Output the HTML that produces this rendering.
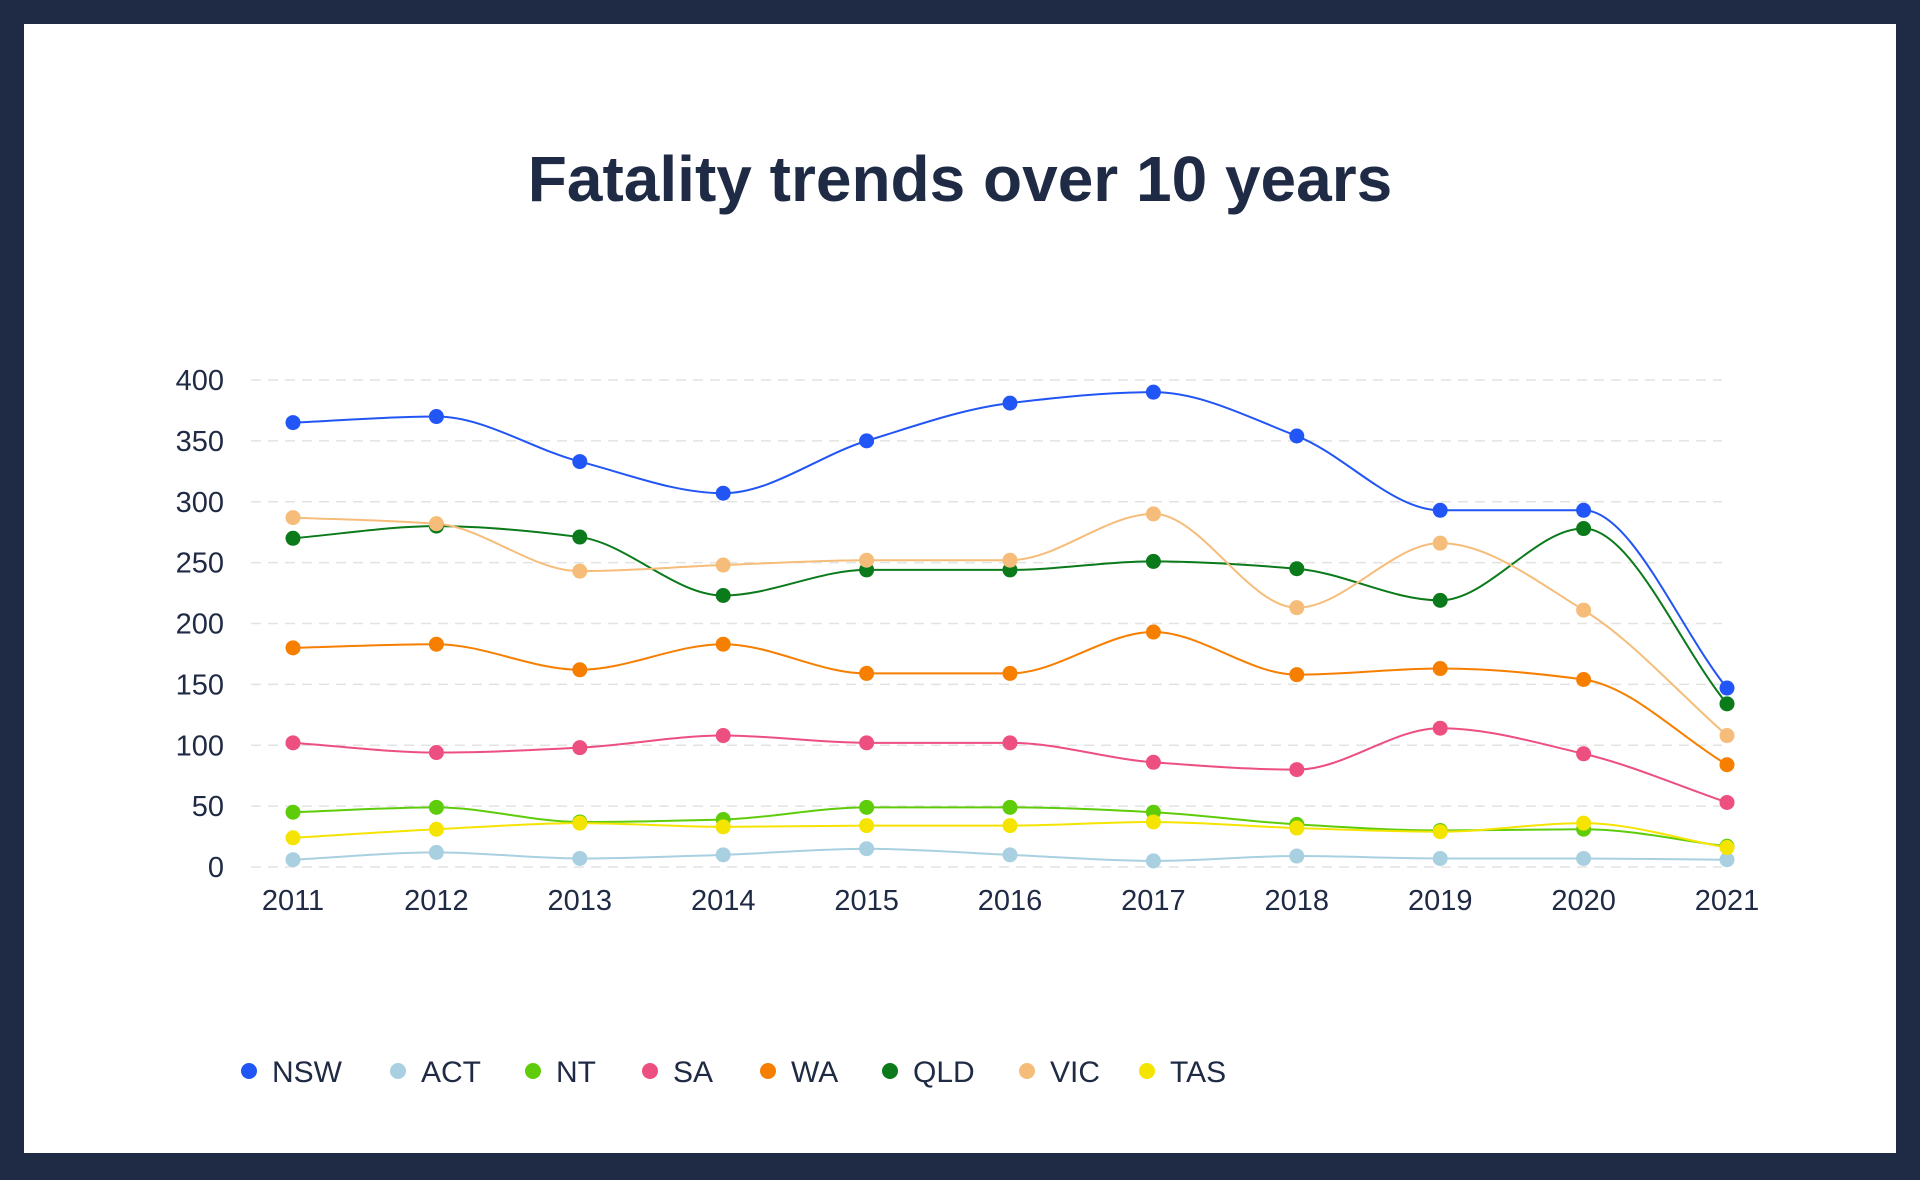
<!DOCTYPE html>
<html><head><meta charset="utf-8"><style>
html,body{margin:0;padding:0;}
body{width:1920px;height:1180px;background:#1f2a44;position:relative;overflow:hidden;font-family:"Liberation Sans",sans-serif;}
#panel{position:absolute;left:24px;top:24px;width:1872px;height:1129px;background:#fff;}
#title{position:absolute;left:0;width:1920px;top:142px;text-align:center;font-size:64px;font-weight:bold;color:#1f2a44;}
svg{position:absolute;left:0;top:0;}
</style></head><body>
<div id="panel"></div>
<div id="title">Fatality trends over 10 years</div>
<svg id="chart" width="1920" height="1180"></svg>
<script>
const years = ['2011','2012','2013','2014','2015','2016','2017','2018','2019','2020','2021'];
const yTicks = [0,50,100,150,200,250,300,350,400];
const seriesNames = ['NSW','ACT','NT','SA','WA','QLD','VIC','TAS'];
const seriesColors = ['#2255f5','#a8d0e0','#5fcc0a','#ec4f80','#f77f00','#0b7a1a','#f6bd7a','#f5e400'];
const NSW = [365,370,333,307,350,381,390,354,293,293,147];
const ACT = [6,12,7,10,15,10,5,9,7,7,6];
const NT = [45,49,37,39,49,49,45,35,30,31,17];
const SA = [102,94,98,108,102,102,86,80,114,93,53];
const WA = [180,183,162,183,159,159,193,158,163,154,84];
const QLD = [270,280,271,223,244,244,251,245,219,278,134];
const VIC = [287,282,243,248,252,252,290,213,266,211,108];
const TAS = [24,31,36,33,34,34,37,32,29,36,16];
const seriesData = [NSW,ACT,NT,SA,WA,QLD,VIC,TAS];
const legendX = [249,398,533,650,768,890,1027,1147];

const NS='http://www.w3.org/2000/svg';
const svg=document.getElementById('chart');
const x0=293,x1=1727,yTop=380,yBot=867,yMax=400;
function xS(i){return x0+(x1-x0)*i/(years.length-1);}
function yS(v){return yBot-(yBot-yTop)*v/yMax;}
function mk(t,a){const e=document.createElementNS(NS,t);for(const k in a)e.setAttribute(k,a[k]);svg.appendChild(e);return e;}

yTicks.forEach(t=>{
  const g=mk('line',{x1:251,x2:1722,y1:yS(t),y2:yS(t),stroke:'#e3e3e3','stroke-width':1.5,'stroke-dasharray':'10,7'});
  
  
  const l=mk('text',{x:224,y:yS(t)+10,'text-anchor':'end','font-size':29,fill:'#1f2a44'});
  l.textContent=t;
  
  
});
years.forEach((yr,i)=>{
  const l=mk('text',{x:xS(i),y:910,'text-anchor':'middle','font-size':29,fill:'#1f2a44'});
  l.textContent=yr;
  
  
});

function monotonePath(xs,ys){
  const n=xs.length,d=[],m=new Array(n);
  for(let i=0;i<n-1;i++)d.push((ys[i+1]-ys[i])/(xs[i+1]-xs[i]));
  m[0]=d[0];m[n-1]=d[n-2];
  for(let i=1;i<n-1;i++){
    if(d[i-1]*d[i]<=0)m[i]=0;
    else{const h0=xs[i]-xs[i-1],h1=xs[i+1]-xs[i];m[i]=3*(h0+h1)/((2*h1+h0)/d[i-1]+(h1+2*h0)/d[i]);}
  }
  let p='M'+xs[0]+','+ys[0];
  for(let i=0;i<n-1;i++){
    const h=(xs[i+1]-xs[i])/3;
    p+=' C'+(xs[i]+h)+','+(ys[i]+m[i]*h)+' '+(xs[i+1]-h)+','+(ys[i+1]-m[i+1]*h)+' '+xs[i+1]+','+ys[i+1];
  }
  return p;
}

seriesData.forEach((arr,si)=>{
  const xs=arr.map((v,i)=>xS(i)),ys=arr.map(v=>yS(v));
  const p=mk('path',{d:monotonePath(xs,ys),fill:'none',stroke:seriesColors[si],'stroke-width':2});
  
  
});
seriesData.forEach((arr,si)=>{
  arr.forEach((v,i)=>{
    const c=mk('circle',{cx:xS(i),cy:yS(v),r:7.5,fill:seriesColors[si]});
    
    
  });
});
seriesNames.forEach((nm,si)=>{
  const c=mk('circle',{cx:legendX[si],cy:1071,r:8,fill:seriesColors[si]});
  
  
  const t=mk('text',{x:legendX[si]+23,y:1082,'font-size':30,fill:'#1f2a44'});
  t.textContent=nm;
  
  
});
</script>
</body></html>
